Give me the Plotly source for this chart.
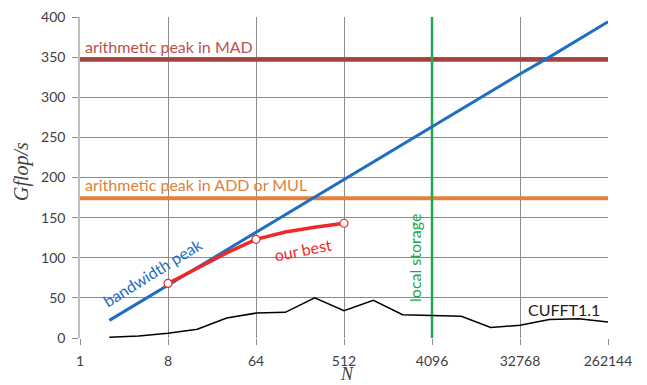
import plotly.graph_objects as go

# ---- data ----
x_ticks = [1, 8, 64, 512, 4096, 32768, 262144]
x_tick_labels = ["1", "8", "64", "512", "4096", "32768", "262144"]
y_ticks = [0, 50, 100, 150, 200, 250, 300, 350, 400]

bw_N = [2, 4, 8, 16, 32, 64, 128, 256, 512, 1024, 2048, 4096, 8192,
        16384, 32768, 65536, 131072, 262144]
bw_gflops = [22, 44, 66, 88, 110, 131, 153, 175, 197, 219, 241, 263, 285,
             307, 329, 350, 372, 394]

best_N = [8, 16, 32, 64, 128, 256, 512]
best_gflops = [68, 87, 106, 123, 132, 138, 143]
best_marked = [True, False, False, True, False, False, True]

cufft_N = [2, 4, 8, 16, 32, 64, 128, 256, 512, 1024, 2048, 4096, 8192,
           16384, 32768, 65536, 131072, 262144]
cufft_gflops = [1, 2.5, 6, 11, 25, 31, 32, 50, 34, 47, 29, 28, 27, 13, 16,
                23, 24, 20]

mad_peak = 347
addmul_peak = 174
local_storage_N = 4096
x_range = [1, 262144]

fig = go.Figure()

fig.add_trace(go.Scatter(x=x_range, y=[mad_peak, mad_peak], mode="lines",
                         line=dict(color="#A5423E", width=4.5), hoverinfo="skip"))
fig.add_trace(go.Scatter(x=x_range, y=[addmul_peak, addmul_peak], mode="lines",
                         line=dict(color="#E0803A", width=4), hoverinfo="skip"))
fig.add_trace(go.Scatter(x=[local_storage_N, local_storage_N], y=[0, 400], mode="lines",
                         line=dict(color="#20A84A", width=2.5), hoverinfo="skip"))
fig.add_trace(go.Scatter(x=bw_N, y=bw_gflops, mode="lines",
                         line=dict(color="#1F6EC0", width=3)))
fig.add_trace(go.Scatter(x=cufft_N, y=cufft_gflops, mode="lines",
                         line=dict(color="#000000", width=1.5)))
fig.add_trace(go.Scatter(x=best_N, y=best_gflops, mode="lines",
                         line=dict(color="#F0282A", width=3.5)))
fig.add_trace(go.Scatter(x=[n for n, m in zip(best_N, best_marked) if m],
                         y=[g for g, m in zip(best_gflops, best_marked) if m],
                         mode="markers",
                         marker=dict(size=8, color="white",
                                     line=dict(color="#F0282A", width=1.2))))

font_txt = "Lato, Carlito, Calibri, sans-serif"
serif = "Liberation Serif, Times New Roman, serif"

# the page has an 8px body margin; figure is sized so the plot lands where intended
OFF = 8
W, H = 647 - OFF, 385 - OFF
L, T = 80 - OFF, 17 - OFF
R, B = 647 - 608, 385 - 338


def page_to_paper(px, py):
    fx, fy = px - OFF, py - OFF
    return (fx - L) / (W - L - R), (H - B - fy) / (H - T - B)


gx, gy = page_to_paper(21, 172)
nx, ny = page_to_paper(347, 374)

ann = [
    dict(x=0, y=mad_peak, xref="x", yref="y", text="arithmetic peak in MAD",
         xanchor="left", yanchor="bottom", xshift=3, yshift=2, showarrow=False,
         font=dict(color="#C0504D", size=16, family=font_txt)),
    dict(x=0, y=addmul_peak, xref="x", yref="y", text="arithmetic peak in ADD or MUL",
         xanchor="left", yanchor="bottom", xshift=3, yshift=2, showarrow=False,
         font=dict(color="#E0803A", size=16, family=font_txt)),
    dict(x=0.739, y=82, xref="x", yref="y", text="bandwidth peak", textangle=-32,
         showarrow=False, font=dict(color="#1F6EC0", size=16, family=font_txt)),
    dict(x=2.29, y=110, xref="x", yref="y", text="our best", textangle=-11,
         showarrow=False, font=dict(color="#F0282A", size=16, family=font_txt)),
    dict(x=3.44, y=100, xref="x", yref="y", text="local storage", textangle=-90,
         showarrow=False, font=dict(color="#20A84A", size=16, family=font_txt)),
    dict(x=4.967, y=36, xref="x", yref="y", text="CUFFT1.1",
         showarrow=False, font=dict(color="#202020", size=16, family=font_txt)),
    dict(x=gx, y=gy, xref="paper", yref="paper", text="<i>Gflop/s</i>", textangle=-90,
         xanchor="center", yanchor="middle",
         showarrow=False, font=dict(color="#404040", size=20, family=serif)),
    dict(x=nx, y=ny, xref="paper", yref="paper", text="<i>N</i>",
         xanchor="center", yanchor="middle", borderpad=0,
         showarrow=False, font=dict(color="#404040", size=18, family=serif)),
]

fig.update_layout(
    width=W, height=H,
    margin=dict(l=L, r=R, t=T, b=B),
    paper_bgcolor="white", plot_bgcolor="white",
    showlegend=False,
    annotations=ann,
    font=dict(family=font_txt, size=14, color="#404040"),
    xaxis=dict(type="log", range=[0, 5.41854], tickvals=x_ticks,
               ticktext=x_tick_labels, showgrid=True, gridcolor="#8C8C8C",
               gridwidth=1, zeroline=False, ticks="outside", ticklen=6,
               tickcolor="#8C8C8C", showline=False, automargin=False,
               ticklabelstandoff=4, ticklabeloverflow="allow"),
    yaxis=dict(range=[0, 400], tickvals=y_ticks, showgrid=True, gridcolor="#8C8C8C",
               gridwidth=1, zeroline=False, ticks="outside", ticklen=6,
               tickcolor="#8C8C8C", showline=True, linecolor="#BFBFBF", linewidth=1.5,
               automargin=False, ticklabelstandoff=4, ticklabeloverflow="allow"),
)

fig.write_html("out.html")
